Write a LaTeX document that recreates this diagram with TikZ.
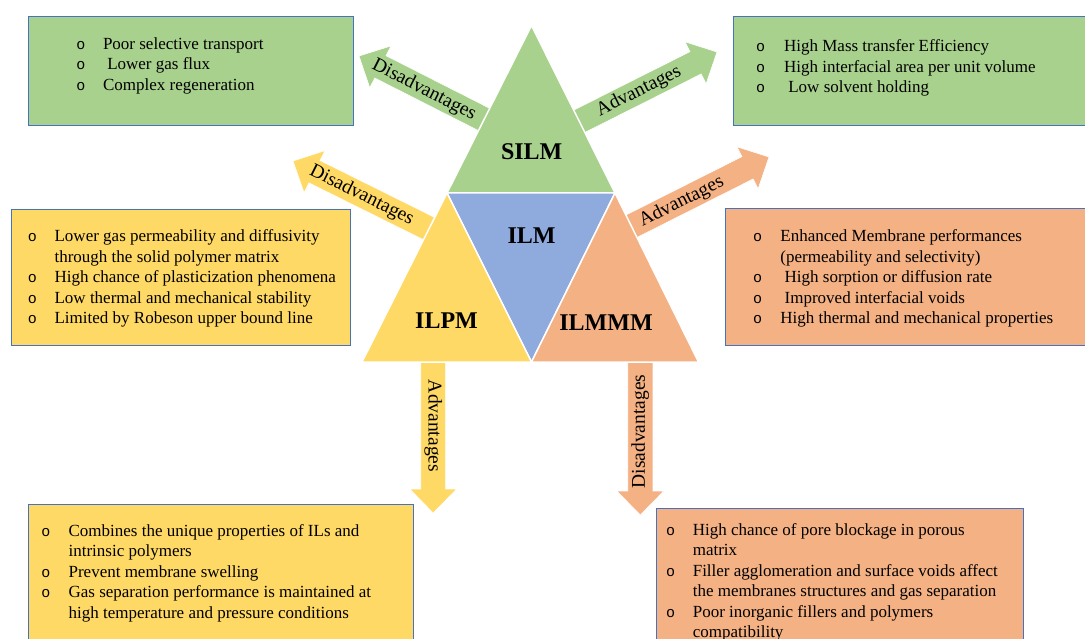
\documentclass[tikz,border=0pt]{standalone}
\usepackage{fontspec}
\setmainfont{Liberation Serif}
\newfontfamily\bulletfont{Liberation Mono}
\usetikzlibrary{calc}
\definecolor{cgreen}{HTML}{A9D18E}
\definecolor{cblue}{HTML}{8FAADC}
\definecolor{cyellow}{HTML}{FFD966}
\definecolor{corange}{HTML}{F4B183}
\definecolor{cborder}{HTML}{4472C4}
\newcommand\bul{\makebox[0pt]{\bulletfont\fontsize{15}{15}\selectfont o}}
\newcommand\fatarrowdraw[3]{%
  \path ($(#2)!24pt!(#1)$) coordinate (hb);
  \path[fatarrow, fill=#3]
    ($(#1)!12.5pt!90:(#2)$) -- ($(hb)!12.5pt!90:(#2)$) -- ($(hb)!23.5pt!90:(#2)$) -- (#2)
    -- ($(hb)!23.5pt!-90:(#2)$) -- ($(hb)!12.5pt!-90:(#2)$) -- ($(#1)!12.5pt!-90:(#2)$) -- cycle;
}
\tikzset{
  infobox/.style={draw=cborder, line width=0.7pt},
  listtext/.style={anchor=base west, inner sep=0pt, font=\fontsize{17}{20.5}\selectfont},
  tri/.style={draw=white, line width=1.5pt, line join=miter},
  fatarrow/.style={draw=white, line width=0.6pt},
  arrowlabel/.style={font=\fontsize{19.5}{20}\selectfont, inner sep=0pt},
  trilabel/.style={font=\bfseries\fontsize{24}{24}\selectfont, inner sep=0pt},
}
\begin{document}
\begin{tikzpicture}[x=1pt, y=-1pt]
\useasboundingbox (0,0) rectangle (1085,639);
\fill[white] (0,0) rectangle (1085,639);
\clip (0,0) rectangle (1085,639);

% info boxes
\path[infobox, fill=cgreen] (28,16) rectangle (353,125);
\path[infobox, fill=cgreen] (733,16) rectangle (1087,125);
\path[infobox, fill=cyellow] (11.6,209) rectangle (350,345.7);
\path[infobox, fill=corange] (725,208) rectangle (1087,345);
\path[infobox, fill=cyellow] (28,504) rectangle (413,660);
\path[infobox, fill=corange] (656,508) rectangle (1023,660);

% box texts
\node[listtext] (t1) at (80.7,49.3) {\begin{tabular}[t]{@{}l@{\hspace{22.1pt}}l@{}}
\bul & Poor selective transport\\
\bul & \hspace{4.25pt}Lower gas flux\\
\bul & Complex regeneration
\end{tabular}};
\node[listtext] (t2) at (760.4,52) {\begin{tabular}[t]{@{}l@{\hspace{23.5pt}}l@{}}
\bul & High Mass transfer Efficiency\\
\bul & High interfacial area per unit volume\\
\bul & \hspace{4.25pt}Low solvent holding
\end{tabular}};
\node[listtext] (t3) at (32.3,242) {\begin{tabular}[t]{@{}l@{\hspace{22.1pt}}l@{}}
\bul & Lower gas permeability and diffusivity\\
 & through the solid polymer matrix\\
\bul & High chance of plasticization phenomena\\
\bul & Low thermal and mechanical stability\\
\bul & Limited by Robeson upper bound line
\end{tabular}};
\node[listtext] (t4) at (757.4,242) {\begin{tabular}[t]{@{}l@{\hspace{22.8pt}}l@{}}
\bul & Enhanced Membrane performances\\
 & (permeability and selectivity)\\
\bul & \hspace{4.25pt}High sorption or diffusion rate\\
\bul & \hspace{4.25pt}Improved interfacial voids\\
\bul & High thermal and mechanical properties
\end{tabular}};
\node[listtext] (t5) at (45.6,536) {\begin{tabular}[t]{@{}l@{\hspace{22.8pt}}l@{}}
\bul & Combines the unique properties of ILs and\\
 & intrinsic polymers\\
\bul & Prevent membrane swelling\\
\bul & Gas separation performance is maintained at\\
 & high temperature and pressure conditions
\end{tabular}};
\node[listtext] (t6) at (670.5,535) {\begin{tabular}[t]{@{}l@{\hspace{22.1pt}}l@{}}
\bul & High chance of pore blockage in porous\\
 & matrix\\
\bul & Filler agglomeration and surface voids affect\\
 & the membranes structures and gas separation\\
\bul & Poor inorganic fillers and polymers\\
 & compatibility
\end{tabular}};

% arrow coordinates
\coordinate (gdT) at (492,123.5); \coordinate (gdP) at (359,56);
\coordinate (ydT) at (440,234);   \coordinate (ydP) at (293,161);
\coordinate (gaT) at (572,125);   \coordinate (gaP) at (717,52);
\coordinate (oaT) at (624,230);   \coordinate (oaP) at (769,157);
\coordinate (yaT) at (433.2,350); \coordinate (yaP) at (433.2,513);
\coordinate (odT) at (640.3,350); \coordinate (odP) at (640.3,515);
\fatarrowdraw{gdT}{gdP}{cgreen}
\fatarrowdraw{ydT}{ydP}{cyellow}
\fatarrowdraw{gaT}{gaP}{cgreen}
\fatarrowdraw{oaT}{oaP}{corange}
\fatarrowdraw{yaT}{yaP}{cyellow}
\fatarrowdraw{odT}{odP}{corange}

% triangles
\coordinate (A) at (531.5,25.5);
\coordinate (BL) at (447,193);
\coordinate (BR) at (615,193);
\coordinate (C) at (531.5,362);
\coordinate (L) at (362,362);
\coordinate (R) at (698.5,362);
\path[tri, fill=cgreen] (A) -- (BL) -- (BR) -- cycle;
\path[tri, fill=cblue] (BL) -- (BR) -- (C) -- cycle;
\path[tri, fill=cyellow] (BL) -- (C) -- (L) -- cycle;
\path[tri, fill=corange] (BR) -- (R) -- (C) -- cycle;

\node[trilabel] (silm) at (531.7,151.7) {SILM};
\node[trilabel] (ilm) at (531.5,236) {ILM};
\node[trilabel] (ilpm) at (446.5,320.5) {ILPM};
\node[trilabel] (ilmmm) at (606,323) {ILMMM};

% arrow labels
\node[arrowlabel, rotate=-26.9] (l1) at (424,90) {Disadvantages};
\node[arrowlabel, rotate=-26.5] (l2) at (361.7,195.5) {Disadvantages};
\node[arrowlabel, rotate=26.6] (l3) at (639,91.5) {Advantages};
\node[arrowlabel, rotate=26.8] (l4) at (681.7,202) {Advantages};
\node[arrowlabel, rotate=-90] (l5) at (433.2,426) {Advantages};
\node[arrowlabel, rotate=90] (l6) at (640.3,431.5) {Disadvantages};
\end{tikzpicture}
\end{document}
